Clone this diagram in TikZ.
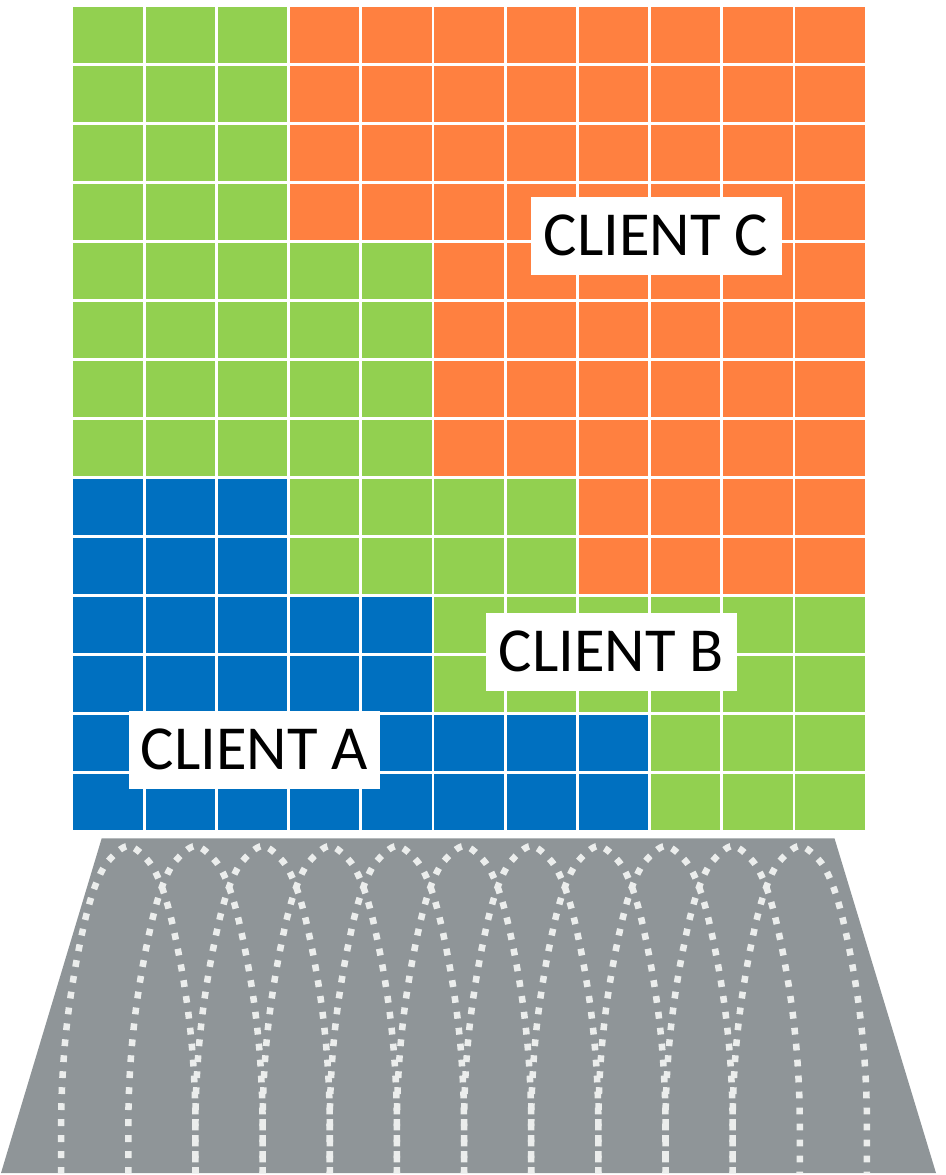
\documentclass[tikz,border=0pt]{standalone}
\usepackage{fontspec}
\setmainfont{Carlito}

\definecolor{cgreen}{RGB}{146,208,80}
\definecolor{corange}{RGB}{255,128,64}
\definecolor{cblue}{RGB}{0,112,192}
\definecolor{cgray}{RGB}{143,149,152}
\definecolor{cdash}{RGB}{235,237,236}

% fill a block of cells: colour, first col, last col, first row, last row
\newcommand{\cellblock}[5]{%
  \fill[#1] ({72+#2*72.2},{5.3+#4*59}) rectangle ({72+(#3+1)*72.2},{5.3+(#5+1)*59});}

\begin{document}
\begin{tikzpicture}[x=0.75pt,y=-0.75pt,
  gridline/.style={white, line width=2pt},
  loopline/.style={cdash, line width=4.9pt, dash pattern=on 5.1pt off 6.9pt},
  clientlabel/.style={fill=white, inner sep=0pt, minimum width=188.25pt,
    minimum height=58.5pt, font=\fontsize{47}{50}\selectfont,
    text height=29.7pt, text depth=0pt}]
\useasboundingbox (0,0) rectangle (946,1175);

% client allocation blocks
\cellblock{cgreen}{0}{2}{0}{7}
\cellblock{cgreen}{3}{4}{4}{7}
\cellblock{cgreen}{3}{6}{8}{9}
\cellblock{cgreen}{5}{10}{10}{11}
\cellblock{cgreen}{8}{10}{12}{13}
\cellblock{corange}{3}{10}{0}{3}
\cellblock{corange}{5}{10}{4}{7}
\cellblock{corange}{7}{10}{8}{9}
\cellblock{cblue}{0}{2}{8}{9}
\cellblock{cblue}{0}{4}{10}{11}
\cellblock{cblue}{0}{7}{12}{13}

% cell separators
\foreach \i in {0,...,11}
  \draw[gridline] ({72+\i*72.2},3) -- ({72+\i*72.2},833.5);
\foreach \j in {0,...,14}
  \draw[gridline] (70,{5.3+\j*59}) -- (868.5,{5.3+\j*59});

% base
\fill[cgray] (101.7,838.3) -- (834.5,838.3) -- (936,1173) -- (1,1173) -- cycle;

% interleaved loops
\begin{scope}
  \clip (101.7,838.3) -- (834.5,838.3) -- (936,1173) -- (1,1173) -- cycle;
  \foreach \k in {0,...,10} {
    \pgfmathsetmacro\c{128.3+67.15*\k}
    \draw[loopline] plot[smooth, tension=0.55] coordinates {
      ({\c-67},1190) ({\c-67},1110) ({\c-64.5},1057) ({\c-59.5},1009)
      ({\c-52},962) ({\c-42},915) ({\c-32},883) ({\c-20},861) (\c,846)
      ({\c+20},861) ({\c+32},883) ({\c+42},915) ({\c+52},962)
      ({\c+59.5},1009) ({\c+64.5},1057) ({\c+67},1110) ({\c+67},1190)};
  }
\end{scope}

% labels
\node[clientlabel] (clientC) at (656,236) {CLIENT C};
\node[clientlabel] (clientB) at (611.3,652) {CLIENT B};
\node[clientlabel] (clientA) at (254.5,750) {CLIENT A};
\end{tikzpicture}
\end{document}
